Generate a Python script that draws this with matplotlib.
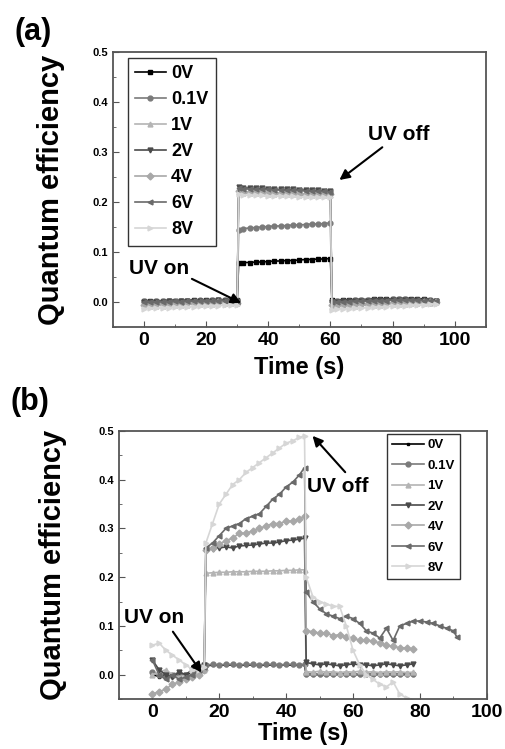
import matplotlib
matplotlib.use('Agg')
import matplotlib.pyplot as plt
from matplotlib.ticker import MultipleLocator

plt.rcParams['font.family'] = ['Liberation Sans', 'DejaVu Sans']
plt.rcParams['font.weight'] = 'bold'

# ---- data, panel (a) ----
ta = [0, 2, 4, 6, 8, 10, 12, 14, 16, 18, 20, 22, 24, 26, 28, 30,
      30.5, 32, 34, 36, 38, 40, 42, 44, 46, 48, 50, 52, 54, 56, 58, 60,
      60.5, 62, 64, 66, 68, 70, 72, 74, 76, 78, 80, 82, 84, 86, 88, 90, 92, 94]

qa_0v = [0.003, 0.002, 0.003, 0.002, 0.003, 0.003, 0.002, 0.003, 0.004, 0.003, 0.004, 0.004, 0.005, 0.004, 0.005, 0.004,
         0.078, 0.079, 0.079, 0.080, 0.080, 0.081, 0.082, 0.082, 0.083, 0.083, 0.084, 0.085, 0.085, 0.086, 0.086, 0.087,
         0.004, 0.003, 0.004, 0.004, 0.005, 0.005, 0.005, 0.006, 0.006, 0.006, 0.006, 0.007, 0.007, 0.007, 0.006, 0.006, 0.005, 0.003]
qa_01v = [0.002, 0.001, 0.002, 0.002, 0.003, 0.002, 0.003, 0.003, 0.003, 0.004, 0.003, 0.004, 0.004, 0.005, 0.004, 0.003,
          0.145, 0.147, 0.148, 0.149, 0.150, 0.151, 0.152, 0.152, 0.153, 0.154, 0.154, 0.155, 0.156, 0.156, 0.157, 0.158,
          0.002, 0.002, 0.003, 0.003, 0.004, 0.004, 0.004, 0.005, 0.005, 0.005, 0.006, 0.006, 0.006, 0.005, 0.005, 0.004, 0.004, 0.002]
qa_1v = [-0.008, -0.008, -0.007, -0.007, -0.006, -0.006, -0.005, -0.005, -0.004, -0.004, -0.003, -0.003, -0.002, -0.002, -0.001, -0.002,
         0.219, 0.218, 0.218, 0.217, 0.217, 0.216, 0.216, 0.216, 0.215, 0.215, 0.214, 0.214, 0.214, 0.213, 0.213, 0.213,
         -0.009, -0.008, -0.008, -0.007, -0.007, -0.006, -0.006, -0.005, -0.005, -0.004, -0.004, -0.003, -0.003, -0.002, -0.002, -0.001, -0.001, 0.000]
qa_2v = [0.001, 0.000, 0.001, 0.001, 0.002, 0.001, 0.002, 0.002, 0.003, 0.002, 0.003, 0.003, 0.004, 0.003, 0.004, 0.002,
         0.229, 0.228, 0.228, 0.227, 0.227, 0.226, 0.226, 0.225, 0.225, 0.225, 0.224, 0.224, 0.223, 0.223, 0.222, 0.222,
         0.001, 0.001, 0.002, 0.002, 0.003, 0.003, 0.003, 0.004, 0.004, 0.004, 0.005, 0.005, 0.005, 0.005, 0.004, 0.004, 0.003, 0.002]
qa_4v = [-0.005, -0.005, -0.004, -0.004, -0.003, -0.003, -0.003, -0.002, -0.002, -0.002, -0.001, -0.001, 0.000, -0.001, 0.000, -0.001,
         0.221, 0.220, 0.220, 0.219, 0.219, 0.218, 0.218, 0.218, 0.217, 0.217, 0.216, 0.216, 0.216, 0.215, 0.215, 0.215,
         -0.006, -0.005, -0.005, -0.004, -0.004, -0.004, -0.003, -0.003, -0.003, -0.002, -0.002, -0.002, -0.001, -0.001, -0.001, 0.000, 0.000, 0.001]
qa_6v = [0.000, 0.001, 0.000, 0.001, 0.001, 0.002, 0.001, 0.002, 0.002, 0.002, 0.003, 0.002, 0.003, 0.003, 0.003, 0.001,
         0.227, 0.226, 0.226, 0.225, 0.225, 0.225, 0.224, 0.224, 0.223, 0.223, 0.223, 0.222, 0.222, 0.221, 0.221, 0.220,
         0.000, 0.000, 0.001, 0.001, 0.002, 0.002, 0.002, 0.003, 0.003, 0.003, 0.004, 0.004, 0.004, 0.004, 0.004, 0.003, 0.003, 0.002]
qa_8v = [-0.013, -0.012, -0.012, -0.011, -0.011, -0.010, -0.010, -0.009, -0.009, -0.008, -0.008, -0.007, -0.007, -0.006, -0.006, -0.006,
         0.215, 0.214, 0.214, 0.213, 0.213, 0.212, 0.212, 0.212, 0.211, 0.211, 0.210, 0.210, 0.210, 0.209, 0.209, 0.209,
         -0.015, -0.014, -0.014, -0.013, -0.012, -0.012, -0.011, -0.010, -0.010, -0.009, -0.008, -0.008, -0.007, -0.006, -0.006, -0.005, -0.004, -0.004]

# ---- data, panel (b) ----
tb = [0, 2, 4, 6, 8, 10, 12, 14, 15.5,
      16, 18, 20, 22, 24, 26, 28, 30, 32, 34, 36, 38, 40, 42, 44, 45.5,
      46, 48, 50, 52, 54, 56, 58, 60, 62, 64, 66, 68, 70, 72, 74, 76, 78]
tb_ext = tb + [80, 82, 84, 86, 88, 90, 91]

qb_0v = [0.000, -0.004, 0.000, -0.005, 0.000, 0.001, 0.004, 0.005, 0.010,
         0.019, 0.019, 0.020, 0.019, 0.020, 0.020, 0.019, 0.020, 0.020, 0.019, 0.020, 0.020, 0.020, 0.019, 0.020, 0.020,
         0.000, 0.000, 0.000, 0.000, 0.000, 0.000, 0.000, 0.000, 0.000, 0.000, 0.000, 0.000, 0.000, 0.000, 0.000, 0.000, 0.000]
qb_01v = [0.005, 0.000, -0.005, 0.000, 0.004, -0.004, 0.000, 0.008, 0.014,
          0.020, 0.021, 0.020, 0.021, 0.021, 0.020, 0.021, 0.021, 0.020, 0.021, 0.021, 0.020, 0.021, 0.021, 0.020, 0.021,
          0.002, 0.002, 0.001, 0.002, 0.002, 0.001, 0.002, 0.002, 0.001, 0.002, 0.002, 0.001, 0.002, 0.002, 0.001, 0.002, 0.002]
qb_1v = [0.000, 0.005, 0.010, 0.000, -0.005, 0.000, 0.010, 0.005, 0.010,
         0.208, 0.209, 0.210, 0.210, 0.211, 0.211, 0.211, 0.212, 0.212, 0.212, 0.213, 0.213, 0.214, 0.214, 0.215, 0.215,
         0.006, 0.005, 0.007, 0.005, 0.006, 0.004, 0.006, 0.005, 0.007, 0.005, 0.006, 0.004, 0.006, 0.005, 0.006, 0.004, 0.005]
qb_2v = [0.030, 0.010, 0.000, -0.005, 0.005, 0.000, 0.010, 0.015, 0.020,
         0.255, 0.258, 0.260, 0.262, 0.260, 0.264, 0.265, 0.266, 0.268, 0.270, 0.270, 0.272, 0.275, 0.276, 0.278, 0.280,
         0.025, 0.022, 0.020, 0.022, 0.020, 0.018, 0.020, 0.022, 0.020, 0.020, 0.018, 0.020, 0.022, 0.020, 0.018, 0.020, 0.022]
qb_4v = [-0.040, -0.035, -0.030, -0.020, -0.015, -0.010, -0.005, 0.000, 0.010,
         0.255, 0.260, 0.268, 0.275, 0.280, 0.290, 0.290, 0.295, 0.300, 0.305, 0.310, 0.310, 0.315, 0.315, 0.320, 0.325,
         0.090, 0.088, 0.085, 0.085, 0.080, 0.082, 0.078, 0.075, 0.070, 0.072, 0.068, 0.065, 0.060, 0.058, 0.055, 0.055, 0.052]
qb_6v = [0.030, 0.000, -0.010, 0.000, -0.010, -0.005, 0.000, 0.010, 0.015,
         0.260, 0.270, 0.285, 0.300, 0.305, 0.310, 0.320, 0.325, 0.330, 0.345, 0.360, 0.370, 0.385, 0.395, 0.410, 0.425,
         0.170, 0.150, 0.135, 0.125, 0.120, 0.115, 0.120, 0.115, 0.105, 0.090, 0.085, 0.075, 0.095, 0.070, 0.100, 0.105, 0.110,
         0.110, 0.108, 0.105, 0.100, 0.095, 0.090, 0.078]
qb_8v = [0.060, 0.065, 0.050, 0.040, 0.030, 0.020, 0.010, 0.010, 0.015,
         0.270, 0.310, 0.350, 0.370, 0.390, 0.400, 0.415, 0.425, 0.435, 0.445, 0.455, 0.465, 0.475, 0.480, 0.487, 0.490,
         0.200, 0.160, 0.150, 0.145, 0.140, 0.140, 0.100, 0.050, 0.020, 0.000, -0.010, -0.020, -0.025, -0.015, -0.040, -0.048, -0.055]

g_labels = ['0V', '0.1V', '1V', '2V', '4V', '6V', '8V']
g_colors = ['#000000', '#7a7a7a', '#b4b4b4', '#4a4a4a', '#a8a8a8', '#6a6a6a', '#d6d6d6']
g_markers = ['s', 'o', '^', 'v', 'D', '<', '>']
g_spine = '#555555'


def style_axes(ax, xlim, xticks):
    ax.set_xlim(*xlim)
    ax.set_ylim(-0.05, 0.5)
    ax.set_xticks(xticks)
    ax.set_yticks([0.0, 0.1, 0.2, 0.3, 0.4, 0.5])
    ax.xaxis.set_minor_locator(MultipleLocator(10))
    ax.yaxis.set_minor_locator(MultipleLocator(0.05))
    ax.tick_params(which='both', direction='in', top=False, right=False, color=g_spine)
    ax.tick_params(axis='x', labelsize=14, length=4)
    ax.tick_params(axis='y', labelsize=8, length=4)
    ax.tick_params(which='minor', length=2)
    for lab in ax.get_xticklabels() + ax.get_yticklabels():
        lab.set_fontweight('bold')
    for s in ax.spines.values():
        s.set_color(g_spine)
        s.set_linewidth(1.3)


def add_legend(ax, anchor, size, spacing, hlen):
    leg = ax.legend(loc='upper left', bbox_to_anchor=anchor, fontsize=size,
                    frameon=True, fancybox=False, framealpha=1, edgecolor='#333333',
                    handlelength=hlen, handletextpad=0.3, labelspacing=spacing,
                    borderpad=0.4, borderaxespad=0)
    leg.get_frame().set_linewidth(1.0)
    for t in leg.get_texts():
        t.set_fontweight('bold')
    return leg


fig = plt.figure(figsize=(5.06, 7.49), dpi=100)

# panel (a)
ax1 = fig.add_axes([0.223, 0.5634, 0.737, 0.3672])
series_a = [qa_0v, qa_01v, qa_1v, qa_2v, qa_4v, qa_6v, qa_8v]
for q, lab, c, m in zip(series_a, g_labels, g_colors, g_markers):
    ax1.plot(ta, q, color=c, marker=m, markersize=3.5, lw=1.2, label=lab)
style_axes(ax1, (-10, 110), [0, 20, 40, 60, 80, 100])
ax1.set_xlabel('Time (s)', fontsize=17, fontweight='bold')
ax1.set_ylabel('Quantum efficiency', fontsize=21, fontweight='bold')
ax1.xaxis.set_label_coords(0.5, -0.105)
ax1.yaxis.set_label_coords(-0.128, 0.5)
add_legend(ax1, (0.04, 0.978), 13, 0.5, 1.7)
ax1.annotate('UV off', xy=(62.9, 0.244), xytext=(72, 0.334), fontsize=15, fontweight='bold',
             va='center', ha='left',
             arrowprops=dict(arrowstyle='-|>', color='black', lw=1.5, shrinkA=0, shrinkB=0))
ax1.annotate('UV on', xy=(31.3, -0.002), xytext=(-4.8, 0.068), fontsize=15, fontweight='bold',
             va='center', ha='left',
             arrowprops=dict(arrowstyle='-|>', color='black', lw=1.5, shrinkA=0, shrinkB=0,
                             relpos=(1.0, 0.0)))
fig.text(0.065, 0.957, '(a)', fontsize=22, fontweight='bold', ha='center', va='center')

# panel (b)
ax2 = fig.add_axes([0.235, 0.0668, 0.727, 0.3578])
series_b = [qb_0v, qb_01v, qb_1v, qb_2v, qb_4v, qb_6v, qb_8v]
for q, lab, c, m in zip(series_b, g_labels, g_colors, g_markers):
    t = tb_ext if len(q) == len(tb_ext) else tb
    ax2.plot(t, q, color=c, marker=m, markersize=3.5 if m != 's' else 2, lw=1.2, label=lab)
style_axes(ax2, (-10, 100), [0, 20, 40, 60, 80, 100])
ax2.set_xlabel('Time (s)', fontsize=17, fontweight='bold')
ax2.set_ylabel('Quantum efficiency', fontsize=21, fontweight='bold')
ax2.xaxis.set_label_coords(0.5, -0.085)
ax2.yaxis.set_label_coords(-0.142, 0.5)
add_legend(ax2, (0.728, 0.989), 9.5, 0.62, 2.4)
ax2.annotate('UV off', xy=(47.9, 0.49), xytext=(46.1, 0.386), fontsize=15, fontweight='bold',
             va='center', ha='left',
             arrowprops=dict(arrowstyle='-|>', color='black', lw=1.5, shrinkA=2, shrinkB=0,
                             relpos=(0.7, 1.0)))
ax2.annotate('UV on', xy=(14.7, 0.004), xytext=(-8.4, 0.118), fontsize=15, fontweight='bold',
             va='center', ha='left',
             arrowprops=dict(arrowstyle='-|>', color='black', lw=1.5, shrinkA=2, shrinkB=0,
                             relpos=(0.75, 0.0)))
fig.text(0.06, 0.463, '(b)', fontsize=22, fontweight='bold', ha='center', va='center')

fig.savefig('out.png', dpi=100)
